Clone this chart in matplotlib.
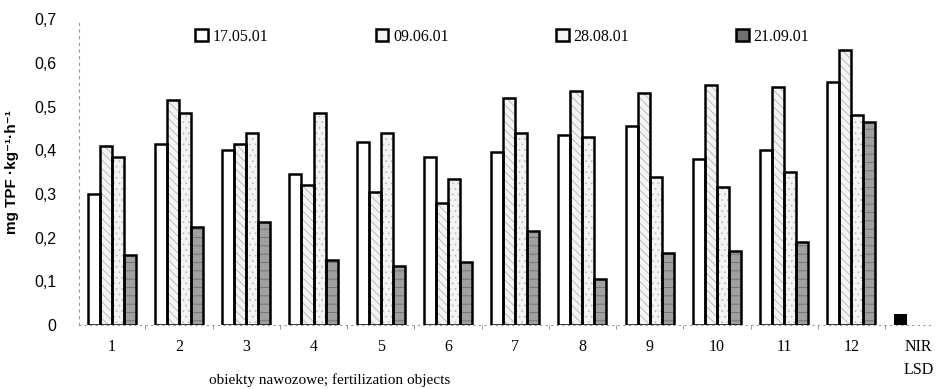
import matplotlib as mpl
mpl.use('Agg')
import matplotlib.pyplot as plt
from matplotlib.patches import Patch
import numpy as np

groups = ['1', '2', '3', '4', '5', '6', '7', '8', '9', '10', '11', '12', 'NIR\nLSD']
dates = ['17.05.01', '09.06.01', '28.08.01', '21.09.01']

s_1705 = [0.30, 0.415, 0.40, 0.345, 0.42, 0.385, 0.395, 0.435, 0.455, 0.38, 0.40, 0.555]
s_0906 = [0.41, 0.515, 0.415, 0.32, 0.305, 0.28, 0.52, 0.535, 0.53, 0.55, 0.545, 0.63]
s_2808 = [0.385, 0.485, 0.44, 0.485, 0.44, 0.335, 0.44, 0.43, 0.34, 0.315, 0.35, 0.48]
s_2109 = [0.16, 0.225, 0.235, 0.15, 0.135, 0.145, 0.215, 0.105, 0.165, 0.17, 0.19, 0.465]
nir_lsd = 0.025

serif = ['Liberation Serif', 'DejaVu Serif']
sans = ['Liberation Sans', 'DejaVu Sans']

mpl.rcParams['hatch.linewidth'] = 0.6

fig = plt.figure(figsize=(9.39, 3.89), dpi=100)
ax = fig.add_axes([0.084, 0.164, 0.91, 0.787])

x = np.arange(len(s_1705))
w = 0.179
# facecolor, hatch, hatch colour
styles = [
    ('white', None, 'white'),
    ('#f3f3f3', '\\\\\\\\', '#b4b4b4'),
    ('#f3f3f3', '...', '#c0c0c0'),
    ('#a0a0a0', '--', '#6e6e6e'),
]
series = [s_1705, s_0906, s_2808, s_2109]
for i, (vals, (fc, ht, hc)) in enumerate(zip(series, styles)):
    pos = x + (i - 1.5) * w
    # fill with hatch drawn in grey, then black outline on top
    ax.bar(pos, vals, w, facecolor=fc, hatch=ht, edgecolor=hc, linewidth=0, zorder=2)
    ax.bar(pos, vals, w, fill=False, edgecolor='black', linewidth=1.8, zorder=3)

ax.bar(len(s_1705) - 1.5 * w, nir_lsd, w * 1.1, color='black', zorder=3)

handles = [Patch(facecolor=fc, edgecolor='black', linewidth=1.8, label=d)
           for (fc, ht, hc), d in zip(styles, dates)]
handles[3].set_facecolor('#707070')

ax.set_xlim(-0.49, 12.22)
ax.set_ylim(0, 0.7)
ax.set_yticks(np.arange(0, 0.71, 0.1))
ax.set_yticklabels(['0', '0,1', '0,2', '0,3', '0,4', '0,5', '0,6', '0,7'],
                   family=sans, fontsize=11.5)
ax.set_xticks(np.arange(len(groups)))
ax.set_xticklabels(groups, family=serif, fontsize=11.5, linespacing=1.6, va='top')
ax.tick_params(axis='x', length=0, pad=10)
ax.set_xticks(np.arange(len(groups) - 1) + 0.5, minor=True)
ax.tick_params(axis='x', which='minor', length=3, color='#888888', width=0.6)
ax.tick_params(axis='y', length=0, pad=16)

for s in ['top', 'right']:
    ax.spines[s].set_visible(False)
ax.spines['left'].set_linestyle((0, (2, 4)))
ax.spines['left'].set_color('#999999')
ax.spines['left'].set_linewidth(0.8)
ax.spines['bottom'].set_linestyle((0, (1, 4)))
ax.spines['bottom'].set_color('#999999')
ax.spines['bottom'].set_linewidth(0.8)

ax.set_ylabel('mg TPF ·kg⁻¹·h⁻¹', family=sans,
              fontweight='bold', fontsize=11, labelpad=11)

ax.legend(handles=handles, ncol=4, loc='upper left', bbox_to_anchor=(0.125, 1.0),
          frameon=False, prop={'family': serif, 'size': 11.5},
          handlelength=0.8, handleheight=0.8, handletextpad=0.3,
          columnspacing=6.7, borderaxespad=0.2)

fig.text(330 / 939, 1 - 380 / 389, 'obiekty nawozowe; fertilization objects',
         family=serif, fontsize=11, ha='center', va='center')

plt.savefig('out.png', dpi=100)
